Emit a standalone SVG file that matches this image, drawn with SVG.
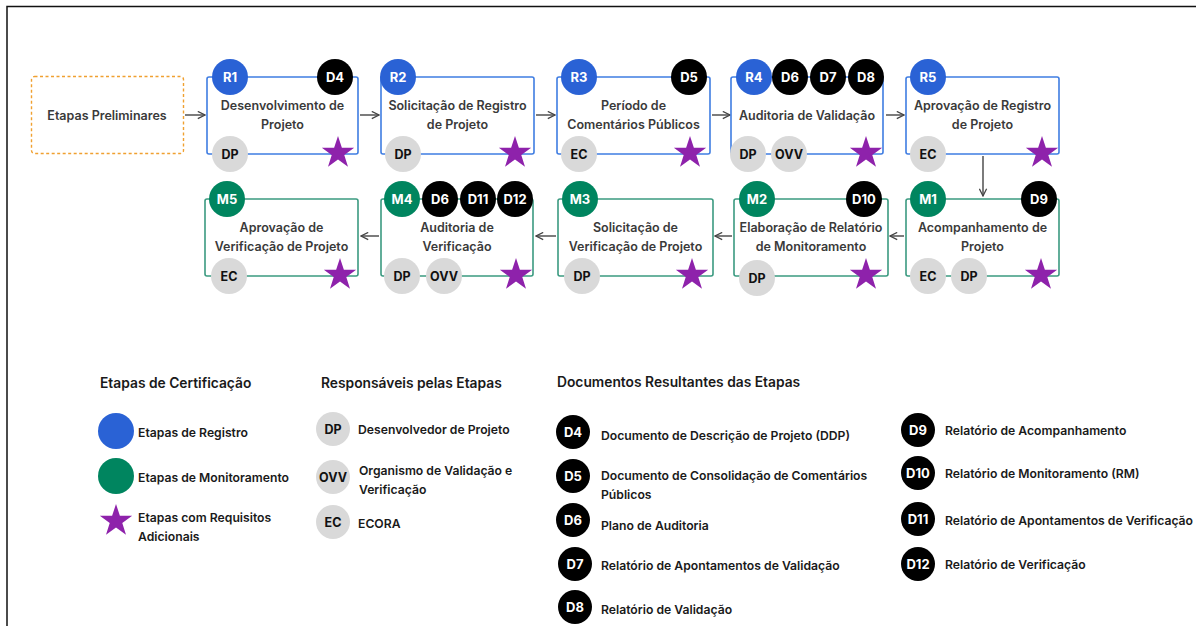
<svg xmlns="http://www.w3.org/2000/svg" width="1196" height="627" viewBox="0 0 1196 627">
<style>
.t{font-family:Inter,"Liberation Sans",sans-serif;font-weight:600;font-size:12.5px;fill:#3a3a3a;text-anchor:middle}
.lg{font-family:Inter,"Liberation Sans",sans-serif;font-weight:600;font-size:12.2px;fill:#1a1a1a}
.hd{font-family:Inter,"Liberation Sans",sans-serif;font-weight:600;font-size:13.8px;fill:#1a1a1a}
.cl{font-family:Inter,"Liberation Sans",sans-serif;font-weight:700;font-size:13px;fill:#fff;text-anchor:middle}
.ck{font-family:Inter,"Liberation Sans",sans-serif;font-weight:700;font-size:12.5px;fill:#111;text-anchor:middle}
.bb{fill:#fff;stroke:#3f7de2;stroke-width:1.6}
.gb{fill:#fff;stroke:#3b9a80;stroke-width:1.6}
.blue{fill:#2a62d5}
.green{fill:#00855f}
.doc{fill:#000}
.chip{fill:#d9d9d9}
.star{fill:#8e22ab}
.conn{stroke:#444;stroke-width:1.4;fill:none;marker-end:url(#ah)}
</style>
<defs>
<marker id="ah" viewBox="0 0 10 10" refX="9" refY="5" markerWidth="9" markerHeight="9" markerUnits="userSpaceOnUse" orient="auto">
<path d="M1,1 L9,5 L1,9" fill="none" stroke="#444" stroke-width="1.4"/>
</marker>
<path id="st" d="M0,-17 L3.88,-5.34 L16.17,-5.25 L6.28,2.04 L9.99,13.75 L0,6.6 L-9.99,13.75 L-6.28,2.04 L-16.17,-5.25 L-3.88,-5.34 Z"/>
</defs>
<rect width="1196" height="627" fill="#fff"/>
<path d="M7,626 L7,6.5 L1196,6.5" fill="none" stroke="#111" stroke-width="1.5"/>

<g id="connectors">
<line class="conn" x1="185" y1="115" x2="205" y2="115"/>
<line class="conn" x1="360" y1="115" x2="379" y2="115"/>
<line class="conn" x1="536" y1="115" x2="555" y2="115"/>
<line class="conn" x1="712" y1="115" x2="730" y2="115"/>
<line class="conn" x1="886" y1="115" x2="904" y2="115"/>
<line class="conn" x1="983" y1="156" x2="983" y2="196"/>
<line class="conn" x1="904" y1="236" x2="890" y2="236"/>
<line class="conn" x1="732" y1="236" x2="715" y2="236"/>
<line class="conn" x1="556" y1="236" x2="536" y2="236"/>
<line class="conn" x1="379" y1="236" x2="361" y2="236"/>
</g>

<g id="prelim">
<rect x="31.5" y="76.5" width="152" height="77" rx="3" fill="#fff" stroke="#f0a030" stroke-width="1.4" stroke-dasharray="3,2.5"/>
<text class="t" x="107" y="120">Etapas Preliminares</text>
</g>

<g id="R1">
<rect class="bb" x="207" y="77" width="151" height="77" rx="2"/>
<circle class="blue" cx="230" cy="77" r="18"/><text class="cl" x="230" y="82">R1</text>
<circle class="doc" cx="335" cy="77" r="18"/><text class="cl" x="335" y="82">D4</text>
<text class="t" x="282.5" y="110">Desenvolvimento de</text>
<text class="t" x="282.5" y="129">Projeto</text>
<circle class="chip" cx="230" cy="154" r="18"/><text class="ck" x="230" y="159">DP</text>
<use href="#st" class="star" x="338" y="153"/>
</g>

<g id="R2">
<rect class="bb" x="381" y="77" width="153" height="77" rx="2"/>
<circle class="blue" cx="398" cy="77" r="18"/><text class="cl" x="398" y="82">R2</text>
<text class="t" x="457.5" y="110">Solicitação de Registro</text>
<text class="t" x="457.5" y="129">de Projeto</text>
<circle class="chip" cx="403" cy="154" r="18"/><text class="ck" x="403" y="159">DP</text>
<use href="#st" class="star" x="515" y="153"/>
</g>

<g id="R3">
<rect class="bb" x="557" y="77" width="153" height="77" rx="2"/>
<circle class="blue" cx="579" cy="77" r="18"/><text class="cl" x="579" y="82">R3</text>
<circle class="doc" cx="689" cy="77" r="18"/><text class="cl" x="689" y="82">D5</text>
<text class="t" x="633.5" y="110">Período de</text>
<text class="t" x="633.5" y="129">Comentários Públicos</text>
<circle class="chip" cx="579" cy="154" r="18"/><text class="ck" x="579" y="159">EC</text>
<use href="#st" class="star" x="690" y="153"/>
</g>

<g id="R4">
<rect class="bb" x="731" y="77" width="152" height="77" rx="2"/>
<circle class="blue" cx="754" cy="77" r="18"/><text class="cl" x="754" y="82">R4</text>
<circle class="doc" cx="790" cy="77" r="18"/><text class="cl" x="790" y="82">D6</text>
<circle class="doc" cx="828" cy="77" r="18"/><text class="cl" x="828" y="82">D7</text>
<circle class="doc" cx="866" cy="77" r="18"/><text class="cl" x="866" y="82">D8</text>
<text class="t" x="807" y="120">Auditoria de Validação</text>
<circle class="chip" cx="748" cy="154" r="18"/><text class="ck" x="748" y="159">DP</text>
<circle class="chip" cx="789" cy="154" r="18"/><text class="ck" x="789" y="159">OVV</text>
<use href="#st" class="star" x="866" y="153"/>
</g>

<g id="R5">
<rect class="bb" x="906" y="77" width="153" height="77" rx="2"/>
<circle class="blue" cx="928" cy="77" r="18"/><text class="cl" x="928" y="82">R5</text>
<text class="t" x="982.5" y="110">Aprovação de Registro</text>
<text class="t" x="982.5" y="129">de Projeto</text>
<circle class="chip" cx="928" cy="154" r="18"/><text class="ck" x="928" y="159">EC</text>
<use href="#st" class="star" x="1042" y="153"/>
</g>

<g id="M1">
<rect class="gb" x="906" y="199" width="153" height="77" rx="2"/>
<circle class="green" cx="928" cy="199" r="18"/><text class="cl" x="928" y="204">M1</text>
<circle class="doc" cx="1039" cy="199" r="18"/><text class="cl" x="1039" y="204">D9</text>
<text class="t" x="982.5" y="232">Acompanhamento de</text>
<text class="t" x="982.5" y="251">Projeto</text>
<circle class="chip" cx="928" cy="276" r="18"/><text class="ck" x="928" y="281">EC</text>
<circle class="chip" cx="969" cy="276" r="18"/><text class="ck" x="969" y="281">DP</text>
<use href="#st" class="star" x="1041" y="275"/>
</g>

<g id="M2">
<rect class="gb" x="734" y="199" width="154" height="77" rx="2"/>
<circle class="green" cx="757" cy="199" r="18"/><text class="cl" x="757" y="204">M2</text>
<circle class="doc" cx="864" cy="199" r="18"/><text class="cl" x="864" y="204">D10</text>
<text class="t" x="811" y="232">Elaboração de Relatório</text>
<text class="t" x="811" y="251">de Monitoramento</text>
<circle class="chip" cx="757" cy="278" r="18"/><text class="ck" x="757" y="283">DP</text>
<use href="#st" class="star" x="866" y="275"/>
</g>

<g id="M3">
<rect class="gb" x="558" y="199" width="155" height="77" rx="2"/>
<circle class="green" cx="580" cy="199" r="18"/><text class="cl" x="580" y="204">M3</text>
<text class="t" x="635.5" y="232">Solicitação de</text>
<text class="t" x="635.5" y="251">Verificação de Projeto</text>
<circle class="chip" cx="582" cy="276" r="18"/><text class="ck" x="582" y="281">DP</text>
<use href="#st" class="star" x="692" y="275"/>
</g>

<g id="M4">
<rect class="gb" x="381" y="199" width="152" height="77" rx="2"/>
<circle class="green" cx="402" cy="199" r="18"/><text class="cl" x="402" y="204">M4</text>
<circle class="doc" cx="440" cy="199" r="18"/><text class="cl" x="440" y="204">D6</text>
<circle class="doc" cx="478" cy="199" r="18"/><text class="cl" x="478" y="204">D11</text>
<circle class="doc" cx="515" cy="199" r="18"/><text class="cl" x="515" y="204">D12</text>
<text class="t" x="457" y="232">Auditoria de</text>
<text class="t" x="457" y="251">Verificação</text>
<circle class="chip" cx="402" cy="276" r="18"/><text class="ck" x="402" y="281">DP</text>
<circle class="chip" cx="444" cy="276" r="18"/><text class="ck" x="444" y="281">OVV</text>
<use href="#st" class="star" x="516" y="275"/>
</g>

<g id="M5">
<rect class="gb" x="205" y="199" width="153" height="77" rx="2"/>
<circle class="green" cx="227" cy="199" r="18"/><text class="cl" x="227" y="204">M5</text>
<text class="t" x="281.5" y="232">Aprovação de</text>
<text class="t" x="281.5" y="251">Verificação de Projeto</text>
<circle class="chip" cx="229" cy="276" r="18"/><text class="ck" x="229" y="281">EC</text>
<use href="#st" class="star" x="340" y="275"/>
</g>

<g id="legend-etapas">
<text class="hd" x="100" y="388">Etapas de Certificação</text>
<circle class="blue" cx="116" cy="431" r="18"/>
<text class="lg" x="138" y="437">Etapas de Registro</text>
<circle class="green" cx="116" cy="476" r="18"/>
<text class="lg" x="138" y="482">Etapas de Monitoramento</text>
<use href="#st" class="star" x="116" y="521"/>
<text class="lg" x="138" y="522">Etapas com Requisitos</text>
<text class="lg" x="138" y="541">Adicionais</text>
</g>

<g id="legend-resp">
<text class="hd" x="321" y="388">Responsáveis pelas Etapas</text>
<circle class="chip" cx="333" cy="429" r="17"/><text class="ck" x="333" y="434">DP</text>
<text class="lg" x="358" y="434">Desenvolvedor de Projeto</text>
<circle class="chip" cx="333" cy="477" r="17"/><text class="ck" x="333" y="482">OVV</text>
<text class="lg" x="359" y="475">Organismo de Validação e</text>
<text class="lg" x="359" y="494">Verificação</text>
<circle class="chip" cx="333" cy="522" r="17"/><text class="ck" x="333" y="527">EC</text>
<text class="lg" x="358" y="528">ECORA</text>
</g>

<g id="legend-docs">
<text class="hd" x="557" y="387">Documentos Resultantes das Etapas</text>
<circle class="doc" cx="573" cy="432" r="17"/><text class="cl" x="573" y="437">D4</text>
<text class="lg" x="601" y="440">Documento de Descrição de Projeto (DDP)</text>
<circle class="doc" cx="573" cy="476" r="17"/><text class="cl" x="573" y="481">D5</text>
<text class="lg" x="601" y="480">Documento de Consolidação de Comentários</text>
<text class="lg" x="601" y="499">Públicos</text>
<circle class="doc" cx="573" cy="520" r="17"/><text class="cl" x="573" y="525">D6</text>
<text class="lg" x="601" y="530">Plano de Auditoria</text>
<circle class="doc" cx="575" cy="564" r="17"/><text class="cl" x="575" y="569">D7</text>
<text class="lg" x="601" y="570">Relatório de Apontamentos de Validação</text>
<circle class="doc" cx="575" cy="607" r="17"/><text class="cl" x="575" y="612">D8</text>
<text class="lg" x="601" y="614">Relatório de Validação</text>
<circle class="doc" cx="918" cy="430" r="17"/><text class="cl" x="918" y="435">D9</text>
<text class="lg" x="945" y="435">Relatório de Acompanhamento</text>
<circle class="doc" cx="918" cy="473" r="17"/><text class="cl" x="918" y="478">D10</text>
<text class="lg" x="945" y="478">Relatório de Monitoramento (RM)</text>
<circle class="doc" cx="918" cy="519" r="17"/><text class="cl" x="918" y="524">D11</text>
<text class="lg" x="945" y="525" textLength="248" lengthAdjust="spacingAndGlyphs">Relatório de Apontamentos de Verificação</text>
<circle class="doc" cx="918" cy="564" r="17"/><text class="cl" x="918" y="569">D12</text>
<text class="lg" x="945" y="569">Relatório de Verificação</text>
</g>
</svg>
